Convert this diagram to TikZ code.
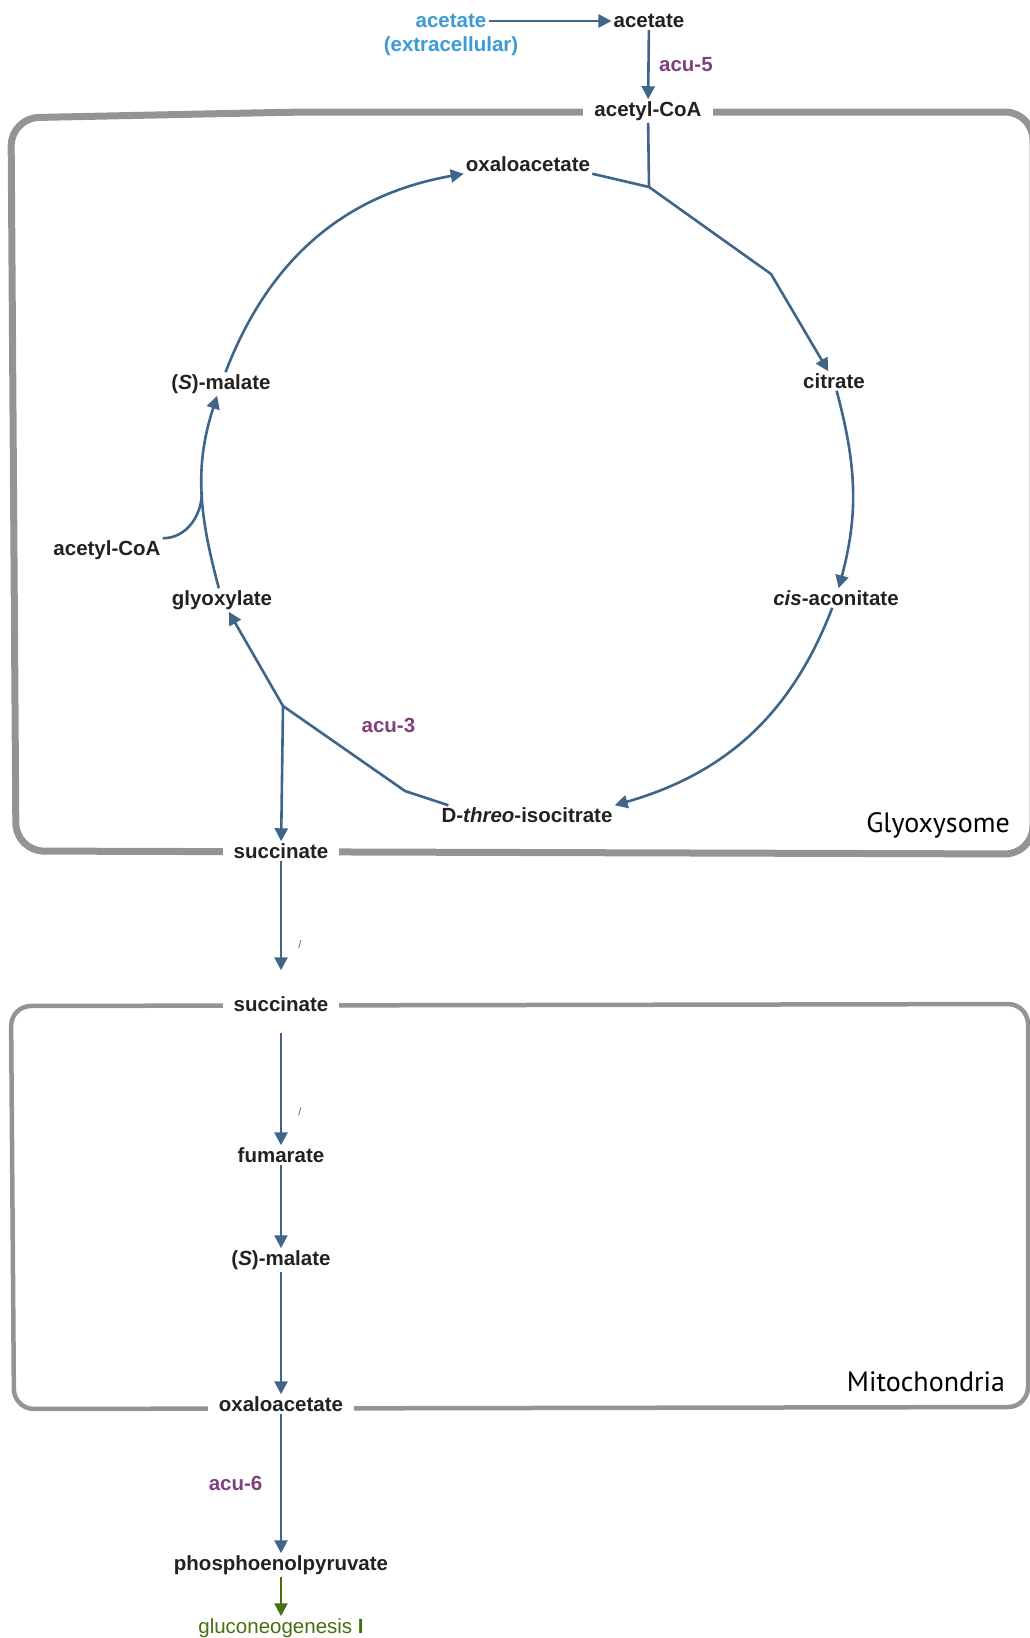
\documentclass[tikz,border=0pt]{standalone}
\usepackage{fontspec}
\setmainfont{Liberation Sans}
\newfontfamily\placefont{PT Sans}
\usetikzlibrary{arrows.meta}
\definecolor{pathblue}{RGB}{63,101,137}
\definecolor{extblue}{RGB}{58,155,215}
\definecolor{enzpurple}{RGB}{128,64,128}
\definecolor{membgray}{RGB}{148,148,148}
\definecolor{txtdark}{RGB}{34,34,34}
\definecolor{glcgreen}{RGB}{74,110,14}
\tikzstyle{met} = [text=txtdark, font=\fontsize{20.5}{24}\selectfont\bfseries, inner sep=2pt]
\tikzstyle{mem} = [met, fill=white, inner xsep=11pt]
\tikzstyle{outside} = [text=extblue, font=\fontsize{20.5}{24}\selectfont\bfseries, inner sep=2pt]
\tikzstyle{enz} = [text=enzpurple, font=\fontsize{20.5}{24}\selectfont\bfseries]
\tikzstyle{glc} = [text=glcgreen, font=\fontsize{20.5}{24}\selectfont, inner sep=2pt]
\tikzstyle{place} = [text=black, font=\placefont\fontsize{28}{32}\selectfont]
\tikzstyle{tick} = [text=pathblue, font=\fontsize{11}{12}\selectfont, inner sep=0pt]
\tikzstyle{rx} = [pathblue, line width=2.6pt, ->]
\tikzstyle{ln} = [pathblue, line width=2.6pt]
\tikzstyle{grx} = [glcgreen, line width=2.6pt, ->]
\tikzstyle{glyomem} = [membgray, line width=7pt, rounded corners=28pt]
\tikzstyle{mitomem} = [membgray, line width=4.5pt, rounded corners=20pt]

\begin{document}
\begin{tikzpicture}[x=1pt, y=1pt, >={Triangle[length=13pt,width=13pt]}]
    \useasboundingbox (0,0) rectangle (1030,-1638);
    % membranes
    \draw[glyomem] (1033,-112) -- (300,-112) -- (11,-118) -- (16,-851) -- (1033,-854) -- cycle;
    \draw[mitomem] (1028,-1004) -- (11,-1006) -- (14,-1409) -- (1028,-1407) -- cycle;
    % metabolites
    \node (extAc) [outside] at (451,-21) {acetate};
    \node (extNote) [outside] at (451,-46) {(extracellular)};
    \node (acet) [met] at (649,-21) {acetate};
    \node (acCoA) [mem] at (648,-111) {acetyl-CoA};
    \node (oaaG) [met] at (528,-164) {oxaloacetate};
    \node (cit) [met] at (834,-381) {citrate};
    \node (malG) [met] at (221,-384) {(\textit{S})-malate};
    \node (acCoAL) [met] at (107,-550) {acetyl-CoA};
    \node (glx) [met] at (222,-600) {glyoxylate};
    \node (cis) [met] at (836,-598) {\textit{cis}-aconitate};
    \node (iso) [met] at (527,-815) {D-\textit{threo}-isocitrate};
    \node (succG) [mem] at (281,-851) {succinate};
    \node (succM) [mem] at (281,-1004) {succinate};
    \node (fum) [met] at (281,-1155) {fumarate};
    \node (malM) [met] at (281,-1260) {(\textit{S})-malate};
    \node (oaaM) [mem] at (281,-1404) {oxaloacetate};
    \node (pep) [met] at (281,-1565) {phosphoenolpyruvate};
    \node (gluc) [glc] at (281,-1628) {gluconeogenesis \textbf{I}};
    \node (glyo) [place] at (938,-825) {Glyoxysome};
    \node (mito) [place] at (926,-1382) {Mitochondria};
    \coordinate (j1) at (649,-187);
    \coordinate (k1) at (771,-274);
    \coordinate (j2) at (283,-706);
    \coordinate (k2) at (405,-791);
    % reactions
    \draw[rx] (extAc) -- (acet);
    \draw[rx] (acet) -- node[enz, anchor=west, xshift=6pt] {acu-5} (acCoA);
    \draw[ln] (acCoA) -- (j1);
    \draw[ln] (oaaG.south east) -- (j1);
    \draw[rx] (j1) -- (k1) -- (cit);
    \draw[rx] (cit) to[out=-75, in=75] (cis);
    \draw[rx] (cis) to[out=-111, in=16] (iso.north east);
    \draw[ln] ([xshift=9pt]iso.north west) -- (k2) -- node[enz, anchor=south west, xshift=13pt, yshift=11pt] {acu-3} (j2);
    \draw[rx] (j2) -- (glx);
    \draw[rx] (j2) -- (succG);
    \draw[rx] (glx) to[out=105, in=252] coordinate[pos=0.5] (m1) (malG);
    \draw[ln] (acCoAL.north east) to[out=0, in=-90] (m1);
    \draw[rx] (malG) to[out=69, in=190] (oaaG.south west);
    \draw[rx, shorten >=24pt] (succG) -- node[tick, pos=0.63, xshift=19pt] {/} (succM);
    \draw[rx, shorten <=19pt] (succM) -- node[tick, pos=0.74, xshift=19pt] {/} (fum);
    \draw[rx] (fum) -- (malM);
    \draw[rx] (malM) -- (oaaM);
    \draw[rx] (oaaM) -- node[enz, anchor=east, xshift=-14pt] {acu-6} (pep);
    \draw[grx] (pep) -- (gluc);
\end{tikzpicture}
\end{document}
